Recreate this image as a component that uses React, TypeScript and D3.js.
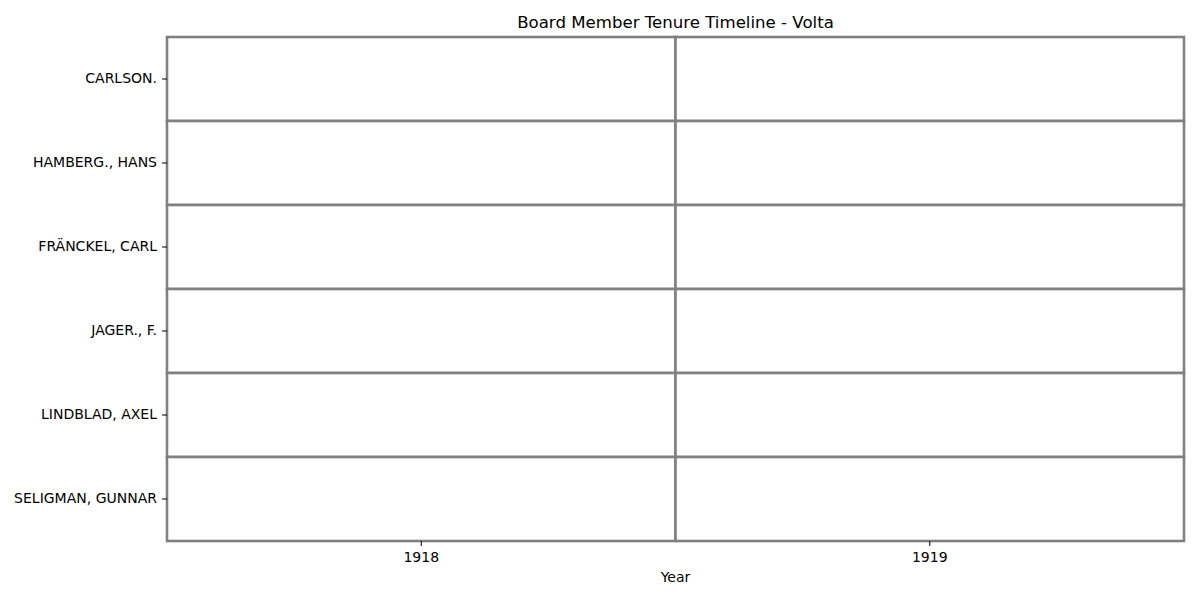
import React from 'react';
import * as d3 from 'd3';

const members = ['CARLSON.', 'HAMBERG., HANS', 'FRÄNCKEL, CARL', 'JAGER., F.', 'LINDBLAD, AXEL', 'SELIGMAN, GUNNAR'];
const years = ['1918', '1919'];

const App: React.FC = () => {
  const width = 1200, height = 600;
  const margin = { top: 37, right: 16, bottom: 59, left: 167 };
  const x = d3.scaleBand().domain(years).range([margin.left, width - margin.right]);
  const y = d3.scaleBand().domain(members).range([margin.top, height - margin.bottom]);
  const font = 'DejaVu Sans, sans-serif';

  const cells = members.flatMap(m => years.map(yr => ({ m, yr })));

  return (
    <svg width={width} height={height} style={{ position: 'absolute', left: 0, top: 0 }} fontFamily={font}>
      <rect width={width} height={height} fill="#fff" />
      {cells.map(c => (
        <rect key={c.m + c.yr} x={x(c.yr)} y={y(c.m)} width={x.bandwidth()} height={y.bandwidth()}
          fill="#fff" stroke="#808080" strokeWidth={2.6} />
      ))}
      <rect x={margin.left} y={margin.top} width={width - margin.right - margin.left}
        height={height - margin.bottom - margin.top} fill="none" stroke="#808080" strokeWidth={1.2} />
      {members.map(m => {
        const cy = (y(m) as number) + y.bandwidth() / 2;
        return (
          <g key={m}>
            <line x1={margin.left - 5} x2={margin.left} y1={cy} y2={cy} stroke="#000" />
            <text x={margin.left - 10} y={cy} dy="0.3em" textAnchor="end" fontSize={14}>{m}</text>
          </g>
        );
      })}
      {years.map(yr => {
        const cx = (x(yr) as number) + x.bandwidth() / 2;
        const by = height - margin.bottom;
        return (
          <g key={yr}>
            <line x1={cx} x2={cx} y1={by} y2={by + 5} stroke="#000" />
            <text x={cx} y={by + 21} textAnchor="middle" fontSize={14}>{yr}</text>
          </g>
        );
      })}
      <text x={(margin.left + width - margin.right) / 2} y={582} textAnchor="middle" fontSize={14}>Year</text>
      <text x={(margin.left + width - margin.right) / 2} y={28} textAnchor="middle" fontSize={16.6}>Board Member Tenure Timeline - Volta</text>
    </svg>
  );
};

export default App;
